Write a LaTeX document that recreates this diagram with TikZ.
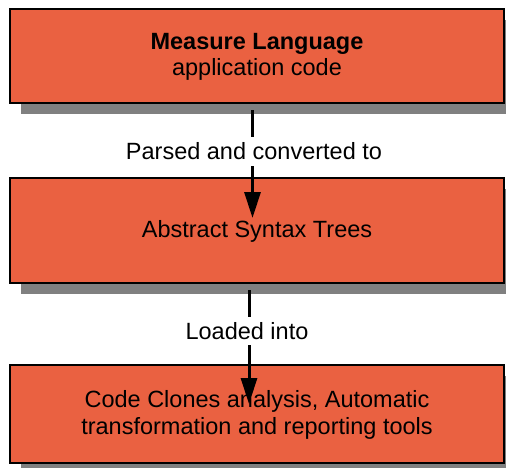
\documentclass[tikz,border=0pt]{standalone}
\usepackage{fontspec}
\setmainfont{Liberation Sans}
\usetikzlibrary{arrows.meta}
\definecolor{boxfill}{RGB}{234,97,65}
\definecolor{shadowgray}{RGB}{128,128,128}
\tikzset{
  stage/.style={draw=black, line width=2pt, fill=boxfill},
  shade/.style={fill=shadowgray, draw=none},
  boxtext/.style={align=center, font=\fontsize{23.5}{26.5}\selectfont, inner sep=0pt},
  flow/.style={line width=3pt, -{Triangle[width=16pt,length=26pt]}},
  flowlabel/.style={fill=white, inner xsep=3pt, inner ysep=5.5pt, font=\fontsize{23.5}{26.5}\selectfont}
}
\begin{document}
\begin{tikzpicture}[x=1pt,y=-1pt]
  \useasboundingbox (0,0) rectangle (506,467);
  \clip (0,0) rectangle (506,467);

  % drop shadows
  \fill[shade] (21,20) rectangle (515,114);
  \fill[shade] (21,189) rectangle (515,294);
  \fill[shade] (21,376) rectangle (515,474);

  % stages
  \draw[stage] (10,9) rectangle (504,103);
  \node[boxtext] (lang) at (257,57) {\textbf{Measure Language}\\application code};

  \draw[stage] (10,178) rectangle (504,283);
  \node[boxtext] (ast) at (257,231) {Abstract Syntax Trees};

  \draw[stage] (10,365) rectangle (504,463);
  \node[boxtext] (tools) at (257,415) {Code Clones analysis, Automatic\\transformation and reporting tools};

  % connectors
  \coordinate (p1) at (252.5,110);
  \coordinate (q1) at (252.5,218);
  \coordinate (p2) at (249,290);
  \coordinate (q2) at (249,404);
  \draw[flow] (p1) -- (q1);
  \draw[flow] (p2) -- (q2);
  \node[flowlabel] (parsed) at (254,151.5) {Parsed and converted to};
  \node[flowlabel] (loaded) at (247,331) {Loaded into};
\end{tikzpicture}
\end{document}
